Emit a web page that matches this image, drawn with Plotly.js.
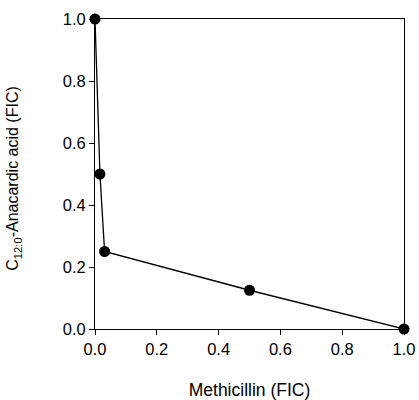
<!DOCTYPE html>
<html>
<head>
<meta charset="utf-8">
<script src="https://cdn.plot.ly/plotly-3.0.1.min.js"></script>
<style>html,body{margin:0;padding:0;background:#fff;}#chart{width:419px;height:400px;}</style>
</head>
<body>
<div id="chart"></div>
<script>
const methicillinFIC = [0, 0.016, 0.031, 0.5, 1.0];
const anacardicFIC = [1.0, 0.5, 0.25, 0.125, 0.0];
const tickVals = [0, 0.2, 0.4, 0.6, 0.8, 1.0];
const tickLabels = ["0.0", "0.2", "0.4", "0.6", "0.8", "1.0"];

const trace = {
  x: methicillinFIC,
  y: anacardicFIC,
  type: 'scatter',
  mode: 'lines+markers',
  line: {color: '#000', width: 1.3},
  marker: {color: '#000', size: 11},
  cliponaxis: false,
  showlegend: false
};

const font = {family: 'Liberation Sans, Arial, sans-serif', color: '#000'};

const layout = {
  width: 419, height: 400,
  margin: {l: 95, r: 15, t: 19, b: 71},
  paper_bgcolor: '#fff', plot_bgcolor: '#fff',
  font: Object.assign({size: 16}, font),
  xaxis: {
    range: [0, 1], tickvals: tickVals, ticktext: tickLabels,
    showgrid: false, zeroline: false,
    showline: true, linecolor: '#000', linewidth: 1, mirror: true,
    ticks: 'outside', ticklen: 5, tickcolor: '#000', tickwidth: 1,
    tickfont: Object.assign({size: 16.5}, font),
    title: {text: 'Methicillin (FIC)', font: Object.assign({size: 17.5}, font), standoff: 26}
  },
  yaxis: {
    range: [0, 1], tickvals: tickVals, ticktext: tickLabels,
    showgrid: false, zeroline: false,
    showline: true, linecolor: '#000', linewidth: 1, mirror: true,
    ticks: 'outside', ticklen: 5, tickcolor: '#000', tickwidth: 1,
    tickfont: Object.assign({size: 16.5}, font)
  },
  annotations: [{
    text: 'C<sub>12:0</sub>-Anacardic acid (FIC)',
    xref: 'paper', yref: 'paper', x: -0.262, y: 0.485,
    xanchor: 'center', yanchor: 'middle', textangle: -90,
    showarrow: false, font: Object.assign({size: 16}, font)
  }]
};

Plotly.newPlot('chart', [trace], layout, {displayModeBar: false, staticPlot: true});
</script>
</body>
</html>
